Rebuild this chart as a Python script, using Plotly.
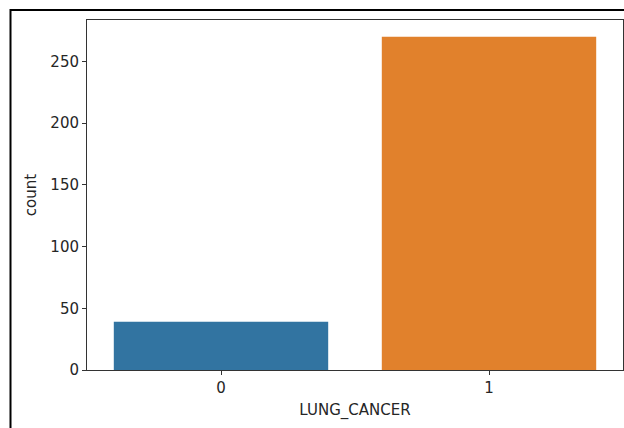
import plotly.graph_objects as go

categories = ["0", "1"]
counts = [39, 270]
bar_colors = ["#3274a1", "#e1812c"]

W, H = 624, 428
L, R, T, B = 87, 1, 20, 58
pw, ph = W - L - R, H - T - B

fig = go.Figure()
fig.add_trace(go.Bar(
    x=[0, 1], y=counts, width=0.8,
    marker=dict(color=bar_colors, line=dict(width=0)),
))

def px_to_paper_x(px):
    return (px - L) / pw

def px_to_paper_y(py):
    return (H - B - py) / ph

axis_font = dict(family="DejaVu Sans", size=15, color="#262626")

fig.update_layout(
    width=W, height=H,
    margin=dict(l=L, r=R, t=T, b=B),
    paper_bgcolor="white", plot_bgcolor="white",
    showlegend=False,
    font=dict(family="DejaVu Sans", size=15, color="#262626"),
    xaxis=dict(
        range=[-0.5, 1.5], tickvals=[0, 1], ticktext=categories,
        showline=True, linecolor="#333333", linewidth=1, mirror=True,
        ticks="outside", ticklen=4, tickcolor="#333333", showgrid=False, zeroline=False,
        tickfont=axis_font,
        title=dict(text="LUNG_CANCER", font=axis_font, standoff=8),
    ),
    yaxis=dict(
        range=[0, 283.5], tickvals=[0, 50, 100, 150, 200, 250],
        showline=True, linecolor="#333333", linewidth=1, mirror=True,
        ticks="outside", ticklen=4, tickcolor="#333333", showgrid=False, zeroline=False,
        tickfont=axis_font,
        title=dict(text="count", font=axis_font, standoff=10),
    ),
    shapes=[dict(
        type="rect", xref="paper", yref="paper",
        x0=px_to_paper_x(10.5), x1=px_to_paper_x(W + 20),
        y0=px_to_paper_y(H + 20), y1=px_to_paper_y(10),
        line=dict(color="black", width=2), fillcolor="rgba(0,0,0,0)", layer="above",
    )],
)

fig.write_html("out.html", config={"displayModeBar": False},
               post_script="document.body.style.margin='0';")
